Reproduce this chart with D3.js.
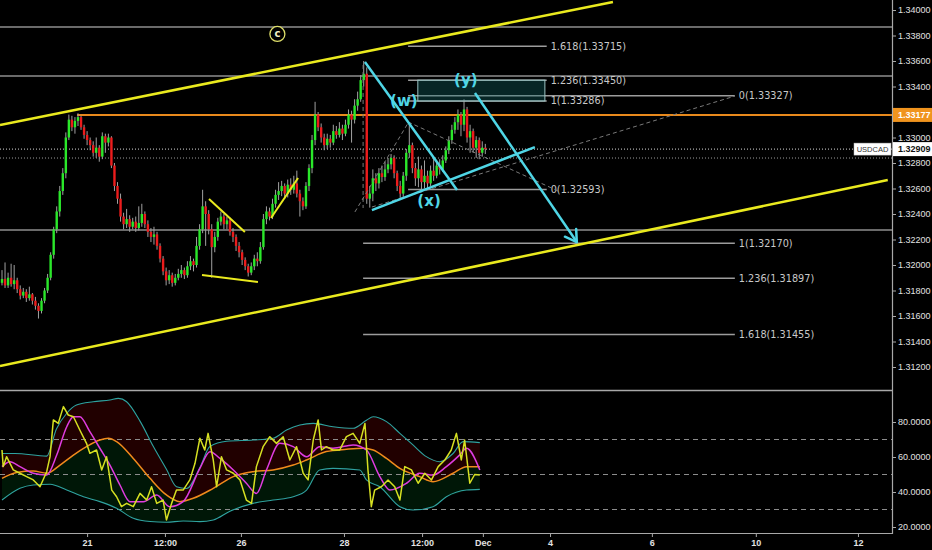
<!DOCTYPE html>
<html>
<head>
<meta charset="utf-8">
<script src="https://cdnjs.cloudflare.com/ajax/libs/d3/7.8.5/d3.min.js"></script>
<style>
  html, body { margin: 0; padding: 0; background: #000; }
  svg { display: block; }
</style>
</head>
<body>
<svg id="chart" width="932" height="550"></svg>
<script>
// Candles, one row per bar: [open, high, low, close] in pips above 1.3000
const candles = [
  [186,196,184,189],[189,202,182,184],[184,194,182,190],[190,201,183,185],[185,200,181,188],
  [188,190,178,181],[181,184,173,176],[176,182,174,179],[179,181,171,174],[174,183,172,177],
  [177,178,169,172],[172,175,165,168],[168,170,158,164],[164,174,162,172],[172,182,170,180],
  [180,193,178,190],[190,210,188,208],[208,230,205,228],[228,246,225,242],[242,262,238,258],
  [258,276,255,272],[272,304,268,300],[300,318,298,314],[314,317,305,308],[308,316,303,313],
  [313,319,309,316],[316,317,306,308],[308,310,299,302],[302,305,294,298],[298,300,290,294],
  [294,297,285,288],[288,300,284,292],[292,294,281,285],[285,304,283,301],[301,303,288,296],
  [296,303,293,300],[300,301,276,278],[278,280,258,262],[262,265,248,252],[252,256,234,238],
  [238,241,228,232],[232,244,229,236],[236,239,226,230],[230,237,228,234],[234,238,226,229],
  [229,246,227,233],[233,248,230,240],[240,242,229,232],[232,235,222,226],[226,229,218,222],
  [222,230,216,224],[224,226,212,215],[215,217,202,205],[205,207,192,195],[195,198,184,188],
  [188,196,185,192],[192,194,183,186],[186,193,184,190],[190,197,188,193],[193,200,190,196],
  [196,198,189,192],[192,203,190,199],[199,207,196,203],[203,205,195,200],[200,222,198,215],
  [215,232,212,228],[228,259,225,246],[246,250,215,240],[240,243,224,228],[228,232,190,214],
  [214,226,210,222],[222,237,219,234],[234,242,231,238],[238,240,228,232],[232,238,228,235],
  [235,237,223,226],[226,229,218,222],[222,224,211,215],[215,218,206,210],[210,212,200,204],
  [204,206,196,199],[199,201,191,194],[194,202,192,199],[199,208,196,205],[205,210,199,203],
  [203,218,201,214],[214,240,212,236],[236,246,232,242],[242,245,235,238],[238,252,236,248],
  [248,259,245,255],[255,265,251,258],[258,266,254,262],[262,264,252,256],[256,267,253,263],
  [263,268,255,259],[259,270,256,264],[264,274,253,256],[256,259,238,250],[250,253,243,246],
  [246,265,244,262],[262,279,258,276],[276,302,272,298],[298,328,294,318],[318,320,305,308],
  [308,311,296,300],[300,303,290,294],[294,303,291,299],[299,302,292,296],[296,310,294,305],
  [305,309,299,302],[302,312,300,307],[307,310,298,303],[303,314,301,310],[310,322,307,318],
  [318,321,296,314],[314,330,311,325],[325,336,321,330],[330,349,328,345],[345,360,340,350],
  [350,355,248,252],[252,262,245,256],[256,275,250,268],[268,272,258,264],[264,276,260,272],
  [272,278,265,269],[269,281,266,275],[275,284,272,279],[279,287,275,284],[284,286,268,272],
  [272,274,258,262],[262,266,252,256],[256,273,253,270],[270,291,266,288],[288,312,284,294],
  [294,296,272,276],[276,280,262,268],[268,285,261,275],[275,278,258,265],[265,282,260,270],
  [270,274,259,264],[264,278,262,274],[274,284,266,270],[270,281,268,278],[278,283,271,275],
  [275,286,273,282],[282,293,280,290],[290,301,287,298],[298,310,295,306],[306,316,303,312],
  [312,322,306,318],[318,320,301,310],[310,330,305,322],[322,324,296,300],[300,310,288,305],
  [305,307,288,292],[292,301,284,298],[298,300,283,288],[288,297,285,292],[292,295,287,290.9]
];

// Time axis (positions in bars)
const timeTickBars = [28, 53.6, 78.6, 112.5, 138.2, 158.2, 180.3, 213.8, 248, 281.6];
const timeTickLabels = ['21', '12:00', '26', '28', '12:00', 'Dec', '4', '6', '10', '12'];
// 1.33200 sits under the orange price marker, so it is not labelled
const priceTicks = [1.312, 1.314, 1.316, 1.318, 1.320, 1.322, 1.324, 1.326, 1.328, 1.330, 1.334, 1.336, 1.338, 1.340];
const indTicks = [20, 40, 60, 80];
const indLevels = [70, 50, 30];

// Prices marked on the chart
const symbol = 'USDCAD';
const lastPrice = 1.32909;
const askPrice = 1.32839;
const resistancePrice = 1.33177;
const resistanceStartBar = 24.7;
const levelPrices = [1.33867, 1.33482, 1.32275];

// Drawings: [bar1, price1, bar2, price2]
const channelLines = [[-0.66, 1.33098, 201, 1.34063], [-0.66, 1.31208, 291.4, 1.32667]];
const patternLines = [[68.1, 1.32518, 79.9, 1.32259], [65.8, 1.31922, 84.2, 1.31867], [88.5, 1.32369, 97.4, 1.32682]];
const waveLines = [[119.4, 1.33592, 149.7, 1.32588], [121.7, 1.32431, 175.3, 1.32925]];
const targetArrow = [155.6, 1.33349, 189.1, 1.32180];
const dashedLines = [[116.1, 1.32416, 133.6, 1.33114], [133.6, 1.33122, 183.6, 1.32573],
                     [121.7, 1.32455, 241.1, 1.33325], [118.8, 1.33569, 118.8, 1.32447]];
const zoneBox = [136.8, 1.33450, 178.6, 1.33286];
const waveLabels = ['(w)', '(y)', '(x)'];
const waveLabelBars = [132.2, 152.6, 140.5];
const waveLabelPrices = [1.33286, 1.33451, 1.32502];
const circleLabel = 'c', circleBar = 90.6, circlePrice = 1.33812;

// Fibonacci extensions
const fibARatios = ['1.618', '1.236', '1', '0'];
const fibAPrices = [1.33715, 1.33450, 1.33286, 1.32593];
const fibAStart = [133.6, 133.6, 133.6, 133.6];
const fibAEnd = 179.2;
const fibBRatios = ['0', '1', '1.236', '1.618'];
const fibBPrices = [1.33327, 1.32170, 1.31897, 1.31455];
const fibBStart = [133.6, 118.8, 118.8, 118.8];
const fibBEnd = 241.1;

// Indicator series: [bar, value]
const rsiLine = [[0,64],[0.4,54.5],[1.5,60.2],[3.7,52.6],[5.9,50.7],[8.1,48.8],[10.3,46.9],[12.5,43],[14.7,51.6],[15.8,60.2],
  [16.9,81.2],[18.5,79.2],[20.2,88.8],[21.8,84],[23.5,83],[25.6,75.4],[27.8,67.8],[28.9,62.1],[31.1,64],[32.8,52.6],
  [34.4,60.2],[36.1,41.1],[37.7,37.3],[39.3,31.6],[41.0,33.5],[43.2,31.6],[45.4,39.2],[47.6,35.4],[49.2,43],[50.9,33.5],
  [53.0,35.4],[54.1,24],[55.8,33.5],[57.4,41.1],[59.6,41.1],[61.8,46.9],[63.5,56.4],[65.1,70.7],[66.7,64],[67.8,73.5],
  [69.5,58.3],[70.6,43],[72.2,60.2],[73.9,52.6],[76.1,50.7],[78.3,46.9],[80.4,35.4],[82.1,33.5],[83.7,54.5],[85.9,65.9],
  [88.1,71.6],[90.3,67.8],[92.5,71.6],[94.7,58.3],[96.9,65.9],[99.1,50.7],[100.7,46.9],[102.4,69.7],[104.0,81.2],[105.1,64],
  [106.7,65.9],[108.9,64],[111.1,64],[113.3,71.6],[115.5,73.5],[117.7,67.8],[119.4,79.2],[120.4,52.6],[121.5,31.6],[122.6,41.1],
  [124.8,43],[127.0,46.9],[129.2,43],[130.9,35.4],[132.5,54.5],[134.7,52.6],[136.9,45],[139.1,50.7],[141.3,46.9],[143.5,54.5],
  [145.7,58.3],[147.8,64],[149.5,73.5],[151.1,58.3],[152.2,69.7],[153.9,45],[155.5,50],[157.2,49.7]];
const fastLine = [[0,54.5],[2.6,57.3],[5.9,54.5],[10.3,50.7],[14.7,49.7],[18,61.1],[21.3,77.3],[23.5,83],[25.6,83],[28.9,74.5],
  [32.2,65],[35.5,55.4],[38.8,44],[42.1,34.5],[46.5,34.5],[50.9,38.3],[55.2,31.6],[59.6,34.5],[65.1,53.5],[68.4,63],
  [71.7,59.2],[76.1,52.6],[80.4,45],[83.7,39.2],[87.0,52.6],[91.4,67.8],[95.8,65.9],[100.2,60.2],[104.5,65.9],[108.9,65],
  [115.5,66.9],[119.9,64],[124.3,48.8],[127.6,41.1],[133.1,45],[137.4,50.7],[141.8,49.7],[146.2,54.5],[150.6,61.2],[152.8,65],[157.2,52.6]];
const basisLine = [[0,47.8],[4.8,51.2],[10.3,52],[14.7,50.7],[19.1,55.4],[23.5,61.1],[27.8,65.9],[32.2,69.7],[35,70.7],[37.7,68.8],
  [43.2,59.2],[48.7,47.8],[54.1,38.3],[58.5,34.5],[62.9,36.4],[69.5,42.1],[76.1,48.8],[82.6,51.6],[89.2,52.6],[95.8,55.4],
  [100.2,58.3],[106.7,63.1],[113.3,64.4],[118.8,65],[122.1,64],[126.5,59.2],[130.9,53.5],[137.4,48.8],[141.8,45.9],[148.4,50.7],
  [152.8,54.5],[157.2,54.5]];
const upperBand = [[0,62],[4.3,62],[14.7,60.5],[17.9,76],[21.3,85],[24.5,89.7],[30.0,91.6],[35.5,92.6],[38.3,93.5],[41.0,91.6],
  [45.4,80.5],[49.8,66],[54.1,53],[57.4,43],[60.7,42],[65.1,54],[68.4,66],[73.9,69],[82.6,69.7],[89.2,70.7],
  [93.6,75.4],[98.0,78.3],[102.4,79.2],[108.9,77.3],[115.5,76.4],[119.9,81],[122.1,83],[126.5,80.2],[130.9,73.5],[135.2,66.9],
  [139.6,60.2],[144.0,57.3],[148.4,62],[151.7,68.8],[157.2,68.2]];
const lowerBand = [[0,35.4],[5.9,42.1],[10.3,44],[15.8,44.4],[21.3,41.1],[26.8,37.3],[32.2,34.5],[37.7,30.7],[43.2,25],[48.7,23.1],
  [54.1,22.7],[59.6,23.4],[65.1,23.1],[69.5,24],[75.0,29],[82.6,33.5],[89.2,35.4],[95.8,37.3],[100.2,41.1],[104.5,52.6],
  [108.9,53.5],[117.7,52.6],[119.9,46.9],[124.3,43],[130.9,31.6],[135.2,29.7],[141.8,31.6],[146.2,37.3],[152.8,41.1],[157.2,41.5]];

// Layout
const svg = d3.select('#chart');
const PLOT_RIGHT = 892;
const MAIN_BOTTOM = 390;
const IND_BOTTOM = 533;
const AXIS_FONT = '"Liberation Sans", Arial, sans-serif';
const LABEL_FONT = '"DejaVu Sans", Verdana, sans-serif';
const CYAN = '#4fd6e6';
const YELLOW = '#eaea1e';

const x = d3.scaleLinear().domain([0, 292.8]).range([2, PLOT_RIGHT]);
const y = d3.scaleLinear().domain([1.312, 1.34]).range([367, 10]);
const yInd = d3.scaleLinear().domain([20, 80]).range([527, 422]);
const toPrice = v => 1.3 + v / 10000;

const bars = candles.map((d, i) => ({
  i, o: toPrice(d[0]), h: toPrice(d[1]), l: toPrice(d[2]), c: toPrice(d[3])
}));

svg.append('rect').attr('width', 932).attr('height', 550).attr('fill', '#000');

const defs = svg.append('defs');
defs.append('clipPath').attr('id', 'clip-main')
  .append('rect').attr('x', 0).attr('y', 0).attr('width', PLOT_RIGHT).attr('height', MAIN_BOTTOM);
defs.append('clipPath').attr('id', 'clip-ind')
  .append('rect').attr('x', 0).attr('y', MAIN_BOTTOM + 1).attr('width', PLOT_RIGHT).attr('height', IND_BOTTOM - MAIN_BOTTOM - 1);

const main = svg.append('g').attr('clip-path', 'url(#clip-main)');

// Horizontal levels
main.selectAll('line.level')
  .data(levelPrices)
  .enter().append('line')
  .attr('class', 'level')
  .attr('x1', 0).attr('x2', PLOT_RIGHT)
  .attr('y1', d => y(d)).attr('y2', d => y(d))
  .attr('stroke', '#8e8e8e').attr('stroke-width', 1.5);

main.append('line')
  .attr('x1', x(resistanceStartBar)).attr('x2', PLOT_RIGHT)
  .attr('y1', y(resistancePrice)).attr('y2', y(resistancePrice))
  .attr('stroke', '#e8891c').attr('stroke-width', 2);

main.selectAll('line.dot')
  .data([lastPrice, askPrice])
  .enter().append('line')
  .attr('class', 'dot')
  .attr('x1', 0).attr('x2', PLOT_RIGHT)
  .attr('y1', d => y(d)).attr('y2', d => y(d))
  .attr('stroke', (d, i) => i === 0 ? '#d8d8d8' : '#9a9a9a')
  .attr('stroke-width', 1)
  .attr('stroke-dasharray', '1,2');

// Candles
const candle = main.selectAll('g.candle')
  .data(bars)
  .enter().append('g')
  .attr('class', 'candle');

candle.append('line')
  .attr('x1', d => x(d.i)).attr('x2', d => x(d.i))
  .attr('y1', d => y(d.h)).attr('y2', d => y(d.l))
  .attr('stroke', '#a0a0a0').attr('stroke-width', 1);

candle.append('rect')
  .attr('x', d => x(d.i) - 1.2)
  .attr('width', 2.4)
  .attr('y', d => y(Math.max(d.o, d.c)))
  .attr('height', d => Math.max(1, Math.abs(y(d.o) - y(d.c))))
  .attr('fill', d => d.c >= d.o ? '#2ae82a' : '#ec1c1c');

// Fibonacci extension levels
const fibLevels = [
  ...fibARatios.map((r, k) => ({ r, p: fibAPrices[k], b0: fibAStart[k], b1: fibAEnd })),
  ...fibBRatios.map((r, k) => ({ r, p: fibBPrices[k], b0: fibBStart[k], b1: fibBEnd }))
];

main.selectAll('line.fib')
  .data(fibLevels)
  .enter().append('line')
  .attr('class', 'fib')
  .attr('x1', d => x(d.b0)).attr('x2', d => x(d.b1))
  .attr('y1', d => y(d.p)).attr('y2', d => y(d.p))
  .attr('stroke', '#9c9c9c').attr('stroke-width', 1.5);

main.selectAll('text.fib')
  .data(fibLevels)
  .enter().append('text')
  .attr('class', 'fib')
  .attr('x', d => x(d.b1) + 4)
  .attr('y', d => y(d.p))
  .attr('dy', '0.35em')
  .attr('fill', '#c8c8c8')
  .style('font-family', LABEL_FONT)
  .style('font-size', '9.7px')
  .text(d => `${d.r}(${d.p.toFixed(5)})`);

main.selectAll('line.dash')
  .data(dashedLines)
  .enter().append('line')
  .attr('class', 'dash')
  .attr('x1', d => x(d[0])).attr('y1', d => y(d[1]))
  .attr('x2', d => x(d[2])).attr('y2', d => y(d[3]))
  .attr('stroke', '#7a7a7a').attr('stroke-width', 1)
  .attr('stroke-dasharray', '4,3');

// Zone box
main.append('rect')
  .attr('x', x(zoneBox[0])).attr('y', y(zoneBox[1]))
  .attr('width', x(zoneBox[2]) - x(zoneBox[0]))
  .attr('height', y(zoneBox[3]) - y(zoneBox[1]))
  .attr('fill', 'rgba(20,110,110,0.35)')
  .attr('stroke', '#9cc4c4').attr('stroke-width', 1);

// Yellow trend lines
main.selectAll('line.channel')
  .data(channelLines.concat(patternLines))
  .enter().append('line')
  .attr('class', 'channel')
  .attr('x1', d => x(d[0])).attr('y1', d => y(d[1]))
  .attr('x2', d => x(d[2])).attr('y2', d => y(d[3]))
  .attr('stroke', YELLOW)
  .attr('stroke-width', (d, i) => i < channelLines.length ? 2.5 : 2);

// Cyan wave lines and target arrow
main.selectAll('line.wave')
  .data(waveLines.concat([targetArrow]))
  .enter().append('line')
  .attr('class', 'wave')
  .attr('x1', d => x(d[0])).attr('y1', d => y(d[1]))
  .attr('x2', d => x(d[2])).attr('y2', d => y(d[3]))
  .attr('stroke', CYAN).attr('stroke-width', 2.5);

const tipX = x(targetArrow[2]), tipY = y(targetArrow[3]);
const back = Math.atan2(y(targetArrow[1]) - tipY, x(targetArrow[0]) - tipX);
main.selectAll('line.head')
  .data([-0.55, 0.55])
  .enter().append('line')
  .attr('class', 'head')
  .attr('x1', tipX).attr('y1', tipY)
  .attr('x2', a => tipX + 13 * Math.cos(back + a))
  .attr('y2', a => tipY + 13 * Math.sin(back + a))
  .attr('stroke', CYAN).attr('stroke-width', 2.5).attr('stroke-linecap', 'round');

main.selectAll('text.wave')
  .data(waveLabels)
  .enter().append('text')
  .attr('class', 'wave')
  .attr('x', (d, i) => x(waveLabelBars[i]))
  .attr('y', (d, i) => y(waveLabelPrices[i]))
  .attr('dy', '0.35em')
  .attr('text-anchor', 'middle')
  .attr('fill', CYAN)
  .style('font-family', LABEL_FONT)
  .style('font-weight', 'bold')
  .style('font-size', '15px')
  .text(d => d);

main.append('circle')
  .attr('cx', x(circleBar)).attr('cy', y(circlePrice)).attr('r', 7.5)
  .attr('fill', '#000').attr('stroke', '#dede6a').attr('stroke-width', 1.3);
main.append('text')
  .attr('x', x(circleBar)).attr('y', y(circlePrice))
  .attr('dy', '0.35em').attr('text-anchor', 'middle')
  .attr('fill', '#f0f0c8')
  .style('font-family', LABEL_FONT).style('font-weight', 'bold').style('font-size', '10px')
  .text(circleLabel);

// Indicator panel
const ind = svg.append('g').attr('clip-path', 'url(#clip-ind)');
const interp = pts => d3.scaleLinear().domain(pts.map(d => d[0])).range(pts.map(d => d[1])).clamp(true);
const upperAt = interp(upperBand), basisAt = interp(basisLine), lowerAt = interp(lowerBand);
const grid = d3.range(0, 157.2, 0.5).concat([157.2]);

ind.append('path')
  .datum(grid)
  .attr('d', d3.area().x(b => x(b)).y0(b => yInd(basisAt(b))).y1(b => yInd(upperAt(b))))
  .attr('fill', 'rgba(150,0,0,0.22)');
ind.append('path')
  .datum(grid)
  .attr('d', d3.area().x(b => x(b)).y0(b => yInd(lowerAt(b))).y1(b => yInd(basisAt(b))))
  .attr('fill', 'rgba(0,130,40,0.18)');

ind.selectAll('line.lvl')
  .data(indLevels)
  .enter().append('line')
  .attr('class', 'lvl')
  .attr('x1', 0).attr('x2', PLOT_RIGHT)
  .attr('y1', d => yInd(d)).attr('y2', d => yInd(d))
  .attr('stroke', '#8c8c8c').attr('stroke-width', 1)
  .attr('stroke-dasharray', '5,4');

const smooth = d3.line().x(d => x(d[0])).y(d => yInd(d[1])).curve(d3.curveMonotoneX);
const jagged = d3.line().x(d => x(d[0])).y(d => yInd(d[1]));
const indSeries = [
  { pts: upperBand, color: '#2fa3a0', w: 1.1, line: smooth },
  { pts: lowerBand, color: '#2fa3a0', w: 1.1, line: smooth },
  { pts: basisLine, color: '#f08a1c', w: 1.5, line: smooth },
  { pts: fastLine, color: '#e03ce0', w: 1.5, line: smooth },
  { pts: rsiLine, color: '#d6e022', w: 1.5, line: jagged }
];
ind.selectAll('path.series')
  .data(indSeries)
  .enter().append('path')
  .attr('class', 'series')
  .attr('d', d => d.line(d.pts))
  .attr('fill', 'none')
  .attr('stroke', d => d.color)
  .attr('stroke-width', d => d.w)
  .attr('stroke-linejoin', 'round');

// Frame lines
svg.append('line')
  .attr('x1', 0).attr('x2', PLOT_RIGHT).attr('y1', MAIN_BOTTOM + 0.5).attr('y2', MAIN_BOTTOM + 0.5)
  .attr('stroke', '#a8a8a8').attr('stroke-width', 1.5);
svg.append('line')
  .attr('x1', 0).attr('x2', PLOT_RIGHT).attr('y1', IND_BOTTOM + 0.5).attr('y2', IND_BOTTOM + 0.5)
  .attr('stroke', '#a8a8a8').attr('stroke-width', 1.2);
svg.append('line')
  .attr('x1', PLOT_RIGHT + 0.5).attr('x2', PLOT_RIGHT + 0.5).attr('y1', 0).attr('y2', IND_BOTTOM + 1)
  .attr('stroke', '#a8a8a8').attr('stroke-width', 1.2);

// Axes
const styleAxis = g => {
  g.select('.domain').remove();
  g.selectAll('.tick line').attr('stroke', '#a8a8a8');
  g.selectAll('.tick text')
    .attr('fill', '#e2e2e2')
    .style('font-family', AXIS_FONT)
    .style('font-size', '9px');
};

svg.append('g')
  .attr('transform', `translate(${PLOT_RIGHT},0)`)
  .call(d3.axisRight(y).tickValues(priceTicks).tickFormat(d3.format('.5f')).tickSize(4).tickPadding(2))
  .call(styleAxis);

svg.append('g')
  .attr('transform', `translate(${PLOT_RIGHT},0)`)
  .call(d3.axisRight(yInd).tickValues(indTicks).tickFormat(d3.format('.4f')).tickSize(4).tickPadding(2))
  .call(styleAxis);

svg.append('g')
  .attr('transform', `translate(0,${IND_BOTTOM})`)
  .call(d3.axisBottom(x).tickValues(timeTickBars).tickFormat((d, i) => timeTickLabels[i]).tickSize(4).tickPadding(3))
  .call(styleAxis)
  .call(g => g.selectAll('.tick text').style('font-weight', 'bold'));

// Price markers on the axis
const marker = (price, bg, fg) => {
  const g = svg.append('g').attr('transform', `translate(${PLOT_RIGHT + 1},${y(price)})`);
  g.append('rect').attr('x', 0).attr('y', -7).attr('width', 40).attr('height', 14).attr('fill', bg);
  g.append('text').attr('x', 5).attr('dy', '0.35em')
    .attr('fill', fg)
    .style('font-family', AXIS_FONT).style('font-size', '9px').style('font-weight', 'bold')
    .text(price.toFixed(5));
};
marker(resistancePrice, '#f0941e', '#ffffff');
marker(lastPrice, '#ffffff', '#111111');

const tag = svg.append('g').attr('transform', `translate(${PLOT_RIGHT - 38},${y(lastPrice)})`);
tag.append('rect').attr('x', 0).attr('y', -6).attr('width', 37).attr('height', 12)
  .attr('fill', '#ffffff').attr('stroke', '#bbbbbb').attr('stroke-width', 0.5);
tag.append('text').attr('x', 18.5).attr('dy', '0.35em').attr('text-anchor', 'middle')
  .attr('fill', '#333333')
  .style('font-family', AXIS_FONT).style('font-size', '7.5px')
  .text(symbol);
</script>
</body>
</html>
